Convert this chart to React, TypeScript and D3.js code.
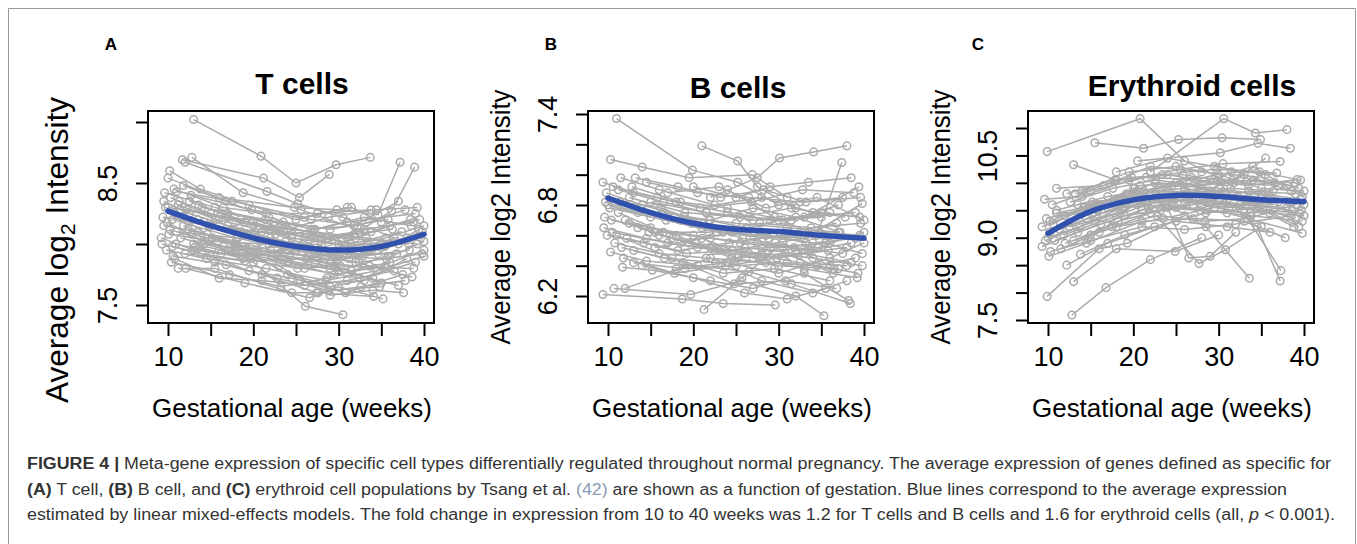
import React from 'react'
import * as d3 from 'd3'

type Pt = [number, number]

const FONT = '"Liberation Sans", Arial, Helvetica, sans-serif'
const GREY = '#ababab'
const BLUE = '#3151ae'

// model fits
const fitWeeks = [10, 15, 20, 25, 30, 35, 40]
const tFit = [8.27, 8.15, 8.05, 7.98, 7.95, 7.98, 8.08]
const bFit = [6.845, 6.75, 6.68, 6.64, 6.625, 6.6, 6.58]
const eFit = [9.08, 9.48, 9.69, 9.77, 9.75, 9.69, 9.66]

const xTicks = [10, 15, 20, 25, 30, 35, 40]
const xLabels = [10, 20, 30, 40]

const tTicks = [7.5, 8.0, 8.5, 9.0]
const tLabels = [7.5, 8.5]
const bTicks = [6.2, 6.4, 6.6, 6.8, 7.0, 7.2, 7.4]
const bLabels = [6.2, 6.8, 7.4]
const eTicks = [7.5, 8.0, 8.5, 9.0, 9.5, 10.0, 10.5, 11.0]
const eLabels = [7.5, 9.0, 10.5]

// one array per subject: [gestational week, meta-gene value]
const tSubjects: Pt[][] = [
  [[13.0, 9.02], [20.9, 8.72], [25.0, 8.5], [29.7, 8.65], [33.7, 8.71]],
  [[11.7, 8.69], [21.2, 8.54], [25.4, 8.38], [28.9, 8.57]],
  [[12.0, 8.67], [21.6, 8.43], [25.2, 8.33], [30.5, 8.22], [36.5, 8.05]],
  [[12.8, 8.71], [18.8, 8.42], [25.6, 8.28], [33.0, 8.1]],
  [[10.0, 8.54], [16.0, 8.38], [24.8, 8.3], [29.8, 8.28], [34.6, 8.24], [37.2, 8.67]],
  [[9.6, 8.42], [15.5, 8.3], [22.5, 8.15], [31.0, 8.05], [36.2, 8.27], [38.9, 8.63]],
  [[11.0, 8.43], [17.5, 8.35], [26.0, 8.22], [31.5, 8.3], [35.0, 8.18]],
  [[9.3, 8.0], [14.0, 7.92], [20.0, 7.85], [26.1, 7.49], [30.5, 7.42]],
  [[11.2, 7.8], [15.5, 7.8], [24.5, 7.6], [27.6, 7.6], [34.1, 7.57]],
  [[12.1, 7.8], [19.0, 7.68], [26.6, 7.56], [30.0, 7.65], [35.2, 7.55]],
  [[10.2, 8.12], [16.5, 7.98], [23.0, 7.88], [29.0, 7.8], [37.0, 7.66]],
  [[10.5, 8.2], [18.0, 8.05], [25.0, 7.95], [32.0, 7.85], [38.6, 7.73]],
  [[10.8, 8.25], [14.8, 8.15], [21.0, 8.1], [28.0, 8.05], [39.5, 8.2]],
  [[9.5, 8.15], [13.5, 8.1], [20.5, 7.95], [27.5, 7.9], [33.5, 7.95], [39.8, 8.1]],
  [[10.0, 8.3], [15.0, 8.25], [22.0, 8.12], [30.0, 8.0], [36.0, 8.15]],
  [[11.5, 8.05], [17.0, 7.95], [24.0, 7.85], [29.5, 7.75], [35.5, 7.82]],
  [[9.8, 7.95], [14.5, 7.88], [21.5, 7.8], [28.5, 7.7], [34.5, 7.78], [40.0, 7.9]],
  [[12.5, 8.35], [18.5, 8.2], [24.5, 8.05], [31.5, 7.98], [38.0, 8.05]],
  [[10.3, 8.38], [16.0, 8.22], [23.5, 8.18], [29.0, 8.12], [35.8, 8.2]],
  [[13.0, 8.0], [19.5, 7.9], [26.0, 7.8], [32.5, 7.72], [39.0, 7.85]],
  [[11.8, 8.15], [18.0, 7.98], [25.5, 7.7], [30.8, 7.6], [37.5, 7.75]],
  [[10.6, 7.9], [16.8, 7.83], [22.8, 7.72], [28.8, 7.62], [34.8, 7.65]],
  [[12.2, 8.28], [20.0, 8.15], [27.0, 8.1], [33.2, 8.05], [39.2, 8.0]],
  [[10.1, 8.08], [15.8, 8.02], [21.8, 8.0], [27.8, 7.95], [32.8, 7.9], [38.3, 7.95]],
  [[11.3, 8.35], [17.8, 8.12], [23.8, 8.02], [29.3, 7.92], [36.8, 7.92]],
  [[9.4, 8.22], [14.2, 8.18], [19.2, 8.08], [26.5, 7.98], [31.2, 7.88], [39.6, 8.05]],
  [[12.7, 8.4], [19.8, 8.28], [26.8, 8.2], [32.2, 8.15], [37.8, 8.28]],
  [[10.9, 8.0], [16.2, 7.92], [24.2, 7.9], [30.2, 7.82], [38.8, 7.8]],
  [[13.5, 8.2], [20.8, 8.02], [28.2, 7.85], [34.2, 7.8], [40.0, 7.95]],
  [[11.0, 8.1], [18.2, 8.05], [25.8, 8.0], [31.8, 8.08], [36.3, 8.12]],
  [[10.4, 7.85], [17.2, 7.75], [23.2, 7.65], [28.6, 7.72], [33.6, 7.82]],
  [[14.0, 8.3], [21.4, 8.2], [27.2, 8.12], [33.0, 8.22], [38.5, 8.15]],
  [[12.0, 7.92], [19.0, 7.86], [26.2, 7.88], [30.6, 7.95], [37.0, 8.0]],
  [[9.7, 8.3], [15.2, 8.05], [22.2, 7.9], [29.8, 7.86], [35.4, 7.98]],
  [[11.6, 8.22], [17.5, 8.12], [24.6, 8.08], [31.0, 8.18], [39.0, 8.25]],
  [[10.7, 8.45], [16.5, 8.3], [21.5, 8.25], [27.5, 8.25], [33.8, 8.28]],
  [[13.2, 7.98], [18.8, 7.88], [25.2, 7.8], [29.5, 7.82], [35.0, 7.68]],
  [[12.4, 8.12], [20.2, 7.95], [26.4, 7.9], [32.4, 7.85], [39.8, 7.92]],
  [[10.2, 8.6], [13.8, 8.45], [19.5, 8.32], [25.0, 8.2], [31.0, 8.3]],
  [[11.4, 8.28], [17.0, 8.22], [23.6, 8.1], [30.4, 8.05], [36.6, 8.02]],
  [[14.6, 8.08], [22.0, 7.95], [28.4, 7.88], [34.6, 7.92], [39.4, 8.12]],
  [[15.0, 8.15], [22.6, 8.08], [27.8, 7.96], [33.4, 8.0], [38.2, 8.0]],
  [[18.0, 8.0], [24.0, 7.75], [28.0, 7.68], [33.0, 7.7], [38.0, 7.88]],
  [[16.0, 7.95], [23.0, 7.82], [29.0, 7.58], [34.0, 7.62], [37.6, 7.6]],
  [[20.0, 8.18], [26.0, 8.05], [31.0, 7.98], [35.5, 8.05], [40.0, 8.15]],
  [[9.2, 8.05], [13.0, 7.95], [18.5, 7.9], [24.0, 7.95], [30.0, 7.9], [35.0, 8.0]],
  [[9.5, 8.35], [12.5, 8.25], [17.0, 8.15], [22.0, 8.05], [27.0, 7.95], [32.0, 8.05]],
  [[10.5, 7.98], [15.0, 7.9], [19.5, 7.78], [24.5, 7.72], [29.0, 7.65], [34.0, 7.72]],
  [[11.8, 8.48], [16.8, 8.35], [21.8, 8.22], [26.8, 8.12], [31.8, 8.15], [37.0, 8.35]],
  [[12.8, 8.08], [17.8, 8.0], [22.8, 7.92], [27.2, 7.84], [31.5, 7.78], [36.0, 7.85]],
  [[9.9, 8.18], [14.0, 8.02], [18.0, 7.95], [23.4, 7.98], [28.0, 8.0], [33.0, 8.12], [38.8, 8.18]],
  [[13.6, 8.32], [19.0, 8.18], [24.0, 8.12], [28.8, 8.22], [34.4, 8.28], [39.2, 8.3]],
  [[10.8, 7.88], [16.0, 7.72], [21.0, 7.7], [26.0, 7.66], [31.0, 7.7], [36.5, 7.78]],
  [[12.4, 8.18], [18.6, 8.1], [23.6, 7.98], [29.6, 7.9], [35.6, 7.88], [40.0, 8.02]],
  [[14.2, 8.0], [19.2, 7.96], [24.2, 7.85], [30.0, 7.78], [35.8, 7.9]],
  [[11.2, 8.32], [15.6, 8.2], [20.6, 8.12], [26.2, 8.08], [31.4, 8.0], [37.4, 8.1]],
  [[17.0, 8.25], [22.4, 8.18], [28.6, 8.05], [33.8, 8.1], [38.4, 8.2]],
  [[15.5, 7.85], [21.0, 7.75], [27.4, 7.6], [32.6, 7.65], [37.8, 7.7]],
]

const bSubjects: Pt[][] = [
  [[11.0, 7.37], [19.9, 7.03], [25.2, 6.95], [30.0, 6.8]],
  [[21.0, 7.19], [25.2, 7.09], [27.5, 6.92], [32.0, 6.78]],
  [[22.0, 6.85], [27.5, 6.98], [30.1, 7.11], [34.1, 7.15], [38.0, 7.19]],
  [[24.0, 6.9], [29.5, 6.72], [34.5, 6.6], [37.4, 7.08]],
  [[10.3, 7.1], [14.0, 7.05], [19.5, 6.98], [26.9, 7.0], [31.0, 6.85]],
  [[9.4, 6.95], [13.0, 6.88], [18.0, 6.82], [24.0, 6.75], [29.0, 6.7], [35.0, 6.72]],
  [[9.4, 6.21], [18.7, 6.18], [23.5, 6.15], [29.6, 6.14]],
  [[10.7, 6.25], [19.7, 6.21], [25.5, 6.3], [32.0, 6.2], [35.3, 6.07]],
  [[21.25, 6.11], [25.7, 6.32], [30.5, 6.55], [36.0, 6.4]],
  [[11.7, 6.39], [15.2, 6.37], [22.0, 6.3], [27.0, 6.25], [33.0, 6.35], [38.2, 6.17]],
  [[10.3, 6.49], [14.5, 6.43], [20.5, 6.4], [26.5, 6.36], [31.5, 6.28], [38.4, 6.15]],
  [[10.0, 6.8], [15.0, 6.72], [21.0, 6.65], [27.0, 6.6], [33.0, 6.58], [39.8, 6.81]],
  [[11.5, 6.98], [16.0, 6.9], [22.5, 6.8], [28.0, 6.85], [34.0, 6.75], [39.4, 6.92]],
  [[10.5, 6.62], [17.0, 6.55], [23.0, 6.5], [29.0, 6.52], [35.5, 6.55], [39.8, 6.48]],
  [[12.0, 6.7], [18.0, 6.6], [24.5, 6.45], [30.0, 6.4], [36.5, 6.38], [39.3, 6.35]],
  [[9.8, 6.88], [14.0, 6.8], [19.0, 6.72], [25.0, 6.68], [31.0, 6.65], [37.0, 6.62]],
  [[11.2, 6.75], [16.5, 6.62], [22.0, 6.58], [27.5, 6.55], [33.5, 6.5], [38.5, 6.55]],
  [[12.8, 6.92], [18.5, 6.82], [24.0, 6.78], [30.5, 6.7], [36.0, 6.75]],
  [[10.8, 6.55], [16.0, 6.48], [21.5, 6.45], [28.5, 6.42], [34.5, 6.4], [39.0, 6.45]],
  [[13.5, 6.65], [19.5, 6.55], [26.0, 6.52], [32.0, 6.48], [38.0, 6.52]],
  [[9.6, 6.72], [15.5, 6.62], [21.8, 6.62], [27.8, 6.68], [33.8, 6.65], [39.6, 6.68]],
  [[14.5, 6.95], [20.5, 6.88], [26.5, 6.85], [32.5, 6.82], [37.5, 6.85]],
  [[11.0, 6.6], [17.5, 6.45], [23.5, 6.35], [29.5, 6.38], [36.0, 6.3]],
  [[12.5, 6.85], [19.0, 6.75], [25.5, 6.72], [31.5, 6.78], [37.8, 6.72]],
  [[10.2, 6.78], [16.8, 6.7], [22.8, 6.62], [28.8, 6.58], [34.8, 6.62], [39.5, 6.6]],
  [[13.0, 6.5], [18.8, 6.42], [24.8, 6.28], [30.8, 6.3], [36.8, 6.25]],
  [[15.0, 6.82], [21.5, 6.75], [27.0, 6.7], [33.0, 6.72], [39.0, 6.75]],
  [[11.8, 6.45], [17.8, 6.35], [23.8, 6.4], [29.8, 6.45], [35.8, 6.5]],
  [[10.6, 6.92], [15.8, 6.85], [20.8, 6.78], [26.8, 6.82], [32.8, 6.9], [38.8, 6.88]],
  [[16.0, 6.6], [22.0, 6.52], [28.0, 6.48], [34.0, 6.45], [39.8, 6.4]],
  [[12.2, 6.58], [18.2, 6.5], [24.2, 6.55], [30.2, 6.6], [36.2, 6.58]],
  [[14.0, 6.4], [20.0, 6.32], [26.0, 6.22], [31.0, 6.18], [35.5, 6.25]],
  [[9.5, 6.65], [14.5, 6.58], [20.5, 6.52], [26.5, 6.48], [32.5, 6.42], [38.0, 6.4]],
  [[17.0, 6.88], [23.0, 6.92], [28.5, 6.78], [34.5, 6.85], [40.0, 6.7]],
  [[11.4, 6.82], [16.2, 6.78], [21.2, 6.68], [27.2, 6.62], [33.2, 6.55]],
  [[18.0, 6.38], [24.0, 6.42], [30.0, 6.35], [36.0, 6.45], [40.0, 6.55]],
  [[13.8, 6.78], [19.8, 6.68], [25.8, 6.58], [31.8, 6.52], [37.5, 6.48]],
  [[20.0, 6.92], [25.0, 6.85], [29.0, 6.92], [33.5, 6.95], [38.5, 6.98]],
  [[12.0, 6.25], [22.0, 6.45], [28.0, 6.3], [34.0, 6.22], [38.0, 6.3]],
  [[15.5, 6.52], [21.0, 6.58], [27.0, 6.45], [33.0, 6.38], [39.2, 6.32]],
  [[9.7, 6.82], [13.5, 6.75], [18.5, 6.7], [23.5, 6.62], [28.5, 6.6], [34.0, 6.55], [39.0, 6.58]],
  [[11.2, 6.9], [16.5, 6.82], [21.5, 6.75], [26.5, 6.72], [31.5, 6.7], [37.0, 6.8]],
  [[12.5, 6.68], [17.5, 6.58], [22.5, 6.5], [27.8, 6.45], [33.0, 6.48], [38.5, 6.42]],
  [[10.4, 6.7], [15.0, 6.65], [20.0, 6.6], [25.5, 6.55], [30.5, 6.52], [36.0, 6.55]],
  [[13.2, 6.98], [18.2, 6.92], [23.2, 6.85], [28.2, 6.9], [33.2, 6.82], [39.6, 6.85]],
  [[14.8, 6.62], [20.2, 6.55], [25.2, 6.45], [30.8, 6.48], [36.4, 6.35]],
  [[11.6, 6.52], [16.6, 6.45], [22.6, 6.42], [28.6, 6.5], [34.6, 6.52], [40.0, 6.62]],
  [[9.9, 6.6], [14.2, 6.55], [19.2, 6.48], [24.6, 6.5], [29.6, 6.55], [35.2, 6.6]],
  [[16.5, 6.75], [21.8, 6.7], [26.2, 6.65], [31.2, 6.62], [36.8, 6.68]],
  [[12.0, 6.8], [17.0, 6.72], [22.0, 6.7], [27.0, 6.78], [32.0, 6.72], [37.2, 6.62]],
  [[18.5, 6.55], [24.5, 6.62], [30.0, 6.7], [35.0, 6.75], [39.5, 6.72]],
  [[13.0, 6.42], [19.0, 6.38], [25.0, 6.4], [31.0, 6.42], [37.0, 6.38]],
]

const eSubjects: Pt[][] = [
  [[9.9, 10.57], [20.8, 11.17], [26.0, 10.4], [30.0, 10.1]],
  [[15.5, 10.73], [21.2, 10.63], [25.3, 10.79], [30.4, 10.82], [34.9, 10.79]],
  [[22.0, 10.2], [30.6, 11.17], [34.3, 10.91], [38.0, 10.97]],
  [[20.5, 10.4], [30.2, 10.55], [34.6, 10.72], [38.4, 10.63]],
  [[13.0, 10.33], [18.0, 10.05], [24.0, 10.15], [31.0, 9.95], [35.5, 10.45]],
  [[9.9, 7.93], [16.0, 8.8], [19.3, 8.9], [26.0, 9.4]],
  [[13.0, 8.2], [18.0, 8.8], [24.9, 8.75], [30.0, 9.05]],
  [[12.8, 7.59], [16.8, 8.09], [22.0, 8.6], [28.0, 9.0]],
  [[24.0, 9.6], [28.5, 9.2], [33.6, 8.26]],
  [[28.0, 9.6], [33.0, 9.45], [37.3, 8.4]],
  [[30.0, 9.8], [34.5, 9.2], [37.2, 8.21]],
  [[20.0, 9.9], [24.0, 9.55], [26.5, 8.63], [29.0, 8.66], [32.0, 9.1]],
  [[21.0, 9.7], [27.7, 8.53], [30.8, 8.78], [35.0, 9.2]],
  [[9.3, 9.2], [14.0, 9.5], [20.0, 9.8], [26.0, 9.9], [33.0, 9.7], [39.4, 9.2]],
  [[9.3, 8.84], [13.5, 9.1], [19.0, 9.4], [25.0, 9.55], [31.0, 9.45], [39.8, 9.08]],
  [[10.1, 8.66], [14.5, 8.9], [21.0, 9.3], [27.0, 9.35], [33.0, 9.3], [37.8, 9.0]],
  [[12.2, 8.5], [17.0, 8.9], [22.5, 9.2], [28.5, 9.45], [34.5, 9.55], [39.0, 9.35]],
  [[10.5, 9.6], [15.0, 9.85], [21.5, 10.1], [27.5, 10.05], [33.5, 9.95], [39.2, 10.06]],
  [[11.0, 9.9], [16.5, 9.95], [22.0, 10.3], [28.0, 10.2], [35.0, 10.1], [39.4, 9.9]],
  [[12.0, 9.4], [17.5, 9.55], [23.0, 9.8], [29.0, 9.85], [35.0, 9.8], [39.6, 9.7]],
  [[10.0, 9.0], [15.5, 9.3], [20.5, 9.6], [26.5, 9.7], [32.5, 9.6], [38.0, 9.55]],
  [[11.5, 8.8], [16.0, 9.1], [22.0, 9.45], [27.0, 9.6], [33.5, 9.85], [39.0, 9.8]],
  [[13.5, 9.6], [19.0, 9.7], [25.0, 10.0], [31.5, 10.2], [36.8, 10.18]],
  [[9.6, 9.7], [14.0, 9.75], [19.5, 10.05], [25.5, 10.25], [30.5, 10.35], [37.2, 10.39]],
  [[12.5, 9.2], [18.5, 9.45], [24.5, 9.95], [30.0, 9.9], [36.0, 9.75], [40.0, 9.6]],
  [[10.8, 8.95], [16.2, 9.25], [21.8, 9.55], [27.8, 9.5], [33.8, 9.4], [39.8, 9.3]],
  [[14.5, 9.35], [20.0, 9.65], [26.0, 9.85], [31.0, 9.7], [36.5, 9.6]],
  [[11.8, 9.05], [17.2, 9.35], [23.2, 9.7], [29.2, 9.65], [35.2, 9.5], [39.5, 9.45]],
  [[10.3, 8.75], [15.0, 8.95], [21.0, 9.2], [26.0, 9.15], [32.0, 9.25], [38.5, 9.4]],
  [[13.2, 9.8], [19.8, 10.1], [25.8, 10.15], [31.8, 10.0], [37.0, 9.95]],
  [[16.0, 9.6], [22.5, 10.0], [28.0, 9.95], [34.0, 10.05], [39.0, 10.0]],
  [[9.8, 9.35], [14.8, 9.55], [20.2, 9.9], [26.2, 9.8], [32.2, 9.75], [38.2, 9.65]],
  [[12.0, 8.9], [18.0, 9.2], [23.5, 9.35], [29.5, 9.55], [35.5, 9.65]],
  [[15.0, 9.05], [21.0, 9.5], [27.0, 9.75], [33.0, 10.15], [38.5, 9.85]],
  [[11.0, 9.5], [17.0, 9.75], [23.0, 9.9], [29.0, 10.05], [34.0, 10.3], [39.8, 9.75]],
  [[13.8, 8.7], [19.0, 9.05], [25.0, 9.3], [31.0, 9.2], [36.0, 9.1]],
  [[18.0, 10.2], [24.0, 10.45], [29.5, 10.3], [35.5, 10.15]],
  [[10.2, 9.1], [15.5, 9.4], [22.0, 9.75], [28.0, 9.9], [34.0, 9.6], [38.8, 9.2]],
  [[10.2, 9.3], [14.2, 9.55], [19.2, 9.8], [24.2, 9.85], [29.2, 9.8], [34.2, 9.75], [39.2, 9.6]],
  [[11.4, 9.15], [16.4, 9.45], [21.4, 9.65], [26.4, 9.75], [31.4, 9.9], [36.4, 9.85]],
  [[12.6, 9.65], [17.6, 9.9], [22.6, 10.05], [27.6, 9.95], [32.6, 10.1], [38.0, 9.95]],
  [[9.7, 8.95], [13.7, 9.2], [18.7, 9.55], [23.7, 9.6], [28.7, 9.5], [33.7, 9.45], [39.7, 9.5]],
  [[14.0, 9.85], [19.5, 10.2], [25.0, 10.3], [30.0, 10.15], [35.0, 9.9], [40.0, 9.85]],
  [[11.0, 9.45], [15.8, 9.6], [20.8, 9.95], [25.8, 10.0], [30.8, 9.8], [35.8, 9.7]],
  [[13.0, 8.95], [18.2, 9.3], [23.2, 9.5], [28.2, 9.7], [33.2, 9.6], [38.6, 9.5]],
  [[15.8, 9.5], [21.2, 9.85], [26.8, 10.1], [31.6, 10.05], [36.6, 10.0]],
  [[10.6, 9.25], [15.2, 9.65], [20.4, 9.75], [26.0, 9.65], [31.2, 9.55], [37.0, 9.65]],
  [[17.5, 9.2], [22.8, 9.4], [28.4, 9.3], [33.4, 9.35], [39.0, 9.6]],
  [[12.2, 9.8], [17.8, 10.05], [23.4, 10.15], [29.8, 10.25], [34.8, 10.2], [39.6, 10.05]],
  [[19.0, 9.55], [24.8, 9.7], [30.4, 9.6], [36.0, 9.45], [40.0, 9.4]],
]

type PanelProps = {
  boxX: number
  yTop: number // pixel of the highest tick
  yBottom: number // pixel of the lowest tick
  ticks: number[]
  labels: number[]
  subjects: Pt[][]
  fit: number[]
  letter: string
  letterX: number
  title: string
  titleX: number
  titleY: number
  yTitle: React.ReactNode
  yTitleX: number
  yTitleY: number
  yTitleSize: number
  yTitleLen: number
}

const boxTop = 111
const boxBottom = 323
const boxWidth = 286

const Panel: React.FunctionComponent<PanelProps> = p => {
  const xAxisRef = React.useRef<SVGGElement>(null)
  const yAxisRef = React.useRef<SVGGElement>(null)

  const x = d3.scaleLinear().domain([10, 40]).range([p.boxX + 20, p.boxX + 276])
  const y = d3
    .scaleLinear()
    .domain([p.ticks[0], p.ticks[p.ticks.length - 1]])
    .range([p.yBottom, p.yTop])

  const line = d3
    .line<Pt>()
    .x(d => x(d[0]))
    .y(d => y(d[1]))
  const fitLine = d3
    .line<number>()
    .x((_, i) => x(fitWeeks[i]))
    .y(d => y(d))
    .curve(d3.curveCatmullRom)

  React.useEffect(() => {
    const gx = d3.select(xAxisRef.current!)
    gx.call(
      d3
        .axisBottom(x)
        .tickValues(xTicks)
        .tickSize(13)
        .tickPadding(11)
        .tickFormat(d => (xLabels.includes(+d) ? String(d) : ''))
    )
    gx.select('.domain').remove()
    gx.selectAll('.tick line').attr('stroke', '#000').attr('stroke-width', 2)
    gx.selectAll('.tick text')
      .attr('fill', '#000')
      .attr('font-size', 27)
      .attr('font-family', FONT)

    const gy = d3.select(yAxisRef.current!)
    gy.call(
      d3
        .axisLeft(y)
        .tickValues(p.ticks)
        .tickSize(12)
        .tickFormat(d => (p.labels.some(l => Math.abs(l - +d) < 1e-6) ? d3.format('.1f')(+d) : ''))
    )
    gy.select('.domain').remove()
    gy.selectAll('.tick line').attr('stroke', '#000').attr('stroke-width', 2)
    gy.selectAll('.tick text')
      .attr('fill', '#000')
      .attr('font-size', 27)
      .attr('font-family', FONT)
      .attr('transform', 'rotate(-90)')
      .attr('text-anchor', 'middle')
      .attr('x', 0)
      .attr('y', -41)
      .attr('dy', '0.36em')
  }, [])

  return (
    <g>
      <text x={p.letterX} y={50} textAnchor="middle" fontFamily={FONT} fontWeight="bold" fontSize={17}>
        {p.letter}
      </text>
      <text x={p.titleX} y={p.titleY} textAnchor="middle" fontFamily={FONT} fontWeight="bold" fontSize={30}>
        {p.title}
      </text>

      {p.subjects.map((s, i) => (
        <g key={i}>
          <path d={line(s) || ''} fill="none" stroke={GREY} strokeWidth={1.5} />
          {s.map((d, j) => (
            <circle key={j} cx={x(d[0])} cy={y(d[1])} r={3.8} fill="none" stroke={GREY} strokeWidth={1.5} />
          ))}
        </g>
      ))}

      <path d={fitLine(p.fit) || ''} fill="none" stroke={BLUE} strokeWidth={5.5} strokeLinecap="round" />

      <rect
        x={p.boxX}
        y={boxTop}
        width={boxWidth}
        height={boxBottom - boxTop}
        fill="none"
        stroke="#000"
        strokeWidth={2}
      />
      <g ref={xAxisRef} transform={`translate(0, ${boxBottom})`} />
      <g ref={yAxisRef} transform={`translate(${p.boxX}, 0)`} />

      <text
        x={p.boxX + 144}
        y={417}
        textAnchor="middle"
        fontFamily={FONT}
        fontSize={25}
        textLength={280}
        lengthAdjust="spacingAndGlyphs"
      >
        Gestational age (weeks)
      </text>
      <text
        transform={`translate(${p.yTitleX}, ${p.yTitleY}) rotate(-90)`}
        textAnchor="middle"
        fontFamily={FONT}
        fontSize={p.yTitleSize}
        textLength={p.yTitleLen}
        lengthAdjust="spacingAndGlyphs"
      >
        {p.yTitle}
      </text>
    </g>
  )
}

const captionColor = '#333'
const captionFont = '"Liberation Sans Narrow", "Liberation Sans", Arial, sans-serif'

const App: React.FunctionComponent = () => {
  return (
    <svg
      width={1357}
      height={544}
      style={{ position: 'absolute', left: 0, top: 0, background: '#fff' }}
    >
      <rect x={0} y={0} width={1357} height={544} fill="#fff" />
      <path d="M8.5,544 V8.5 H1355.5 V544" fill="none" stroke="#999" strokeWidth={1} />

      <Panel
        boxX={148}
        yTop={122}
        yBottom={305}
        ticks={tTicks}
        labels={tLabels}
        subjects={tSubjects}
        fit={tFit}
        letter="A"
        letterX={111}
        title="T cells"
        titleX={302}
        titleY={94}
        yTitle={
          <>
            Average log
            <tspan fontSize={21} dy={7}>
              2
            </tspan>
            <tspan dy={-7}> Intensity</tspan>
          </>
        }
        yTitleX={68}
        yTitleY={250}
        yTitleSize={31}
        yTitleLen={306}
      />
      <Panel
        boxX={588}
        yTop={114}
        yBottom={296}
        ticks={bTicks}
        labels={bLabels}
        subjects={bSubjects}
        fit={bFit}
        letter="B"
        letterX={551}
        title="B cells"
        titleX={738}
        titleY={98}
        yTitle="Average log2 Intensity"
        yTitleX={510}
        yTitleY={217}
        yTitleSize={27}
        yTitleLen={255}
      />
      <Panel
        boxX={1028}
        yTop={128}
        yBottom={320}
        ticks={eTicks}
        labels={eLabels}
        subjects={eSubjects}
        fit={eFit}
        letter="C"
        letterX={978}
        title="Erythroid cells"
        titleX={1192}
        titleY={96}
        yTitle="Average log2 Intensity"
        yTitleX={950}
        yTitleY={217}
        yTitleSize={27}
        yTitleLen={255}
      />

      <g fontFamily={captionFont} fontSize={16} fill={captionColor}>
        <text x={27} y={469} textLength={1304} lengthAdjust="spacingAndGlyphs">
          <tspan fontWeight="bold">FIGURE 4 |</tspan> Meta-gene expression of specific cell types differentially
          regulated throughout normal pregnancy. The average expression of genes defined as specific for
        </text>
        <text x={27} y={495} textLength={1260} lengthAdjust="spacingAndGlyphs">
          <tspan fontWeight="bold">(A)</tspan> T cell, <tspan fontWeight="bold">(B)</tspan> B cell, and{' '}
          <tspan fontWeight="bold">(C)</tspan> erythroid cell populations by Tsang et al.{' '}
          <tspan fill="#8a9bb3">(42)</tspan> are shown as a function of gestation. Blue lines correspond to the
          average expression
        </text>
        <text x={27} y={520} textLength={1308} lengthAdjust="spacingAndGlyphs">
          estimated by linear mixed-effects models. The fold change in expression from 10 to 40 weeks was 1.2 for T
          cells and B cells and 1.6 for erythroid cells (all, <tspan fontStyle="italic">p</tspan> {'<'} 0.001).
        </text>
      </g>
    </svg>
  )
}

export default App
